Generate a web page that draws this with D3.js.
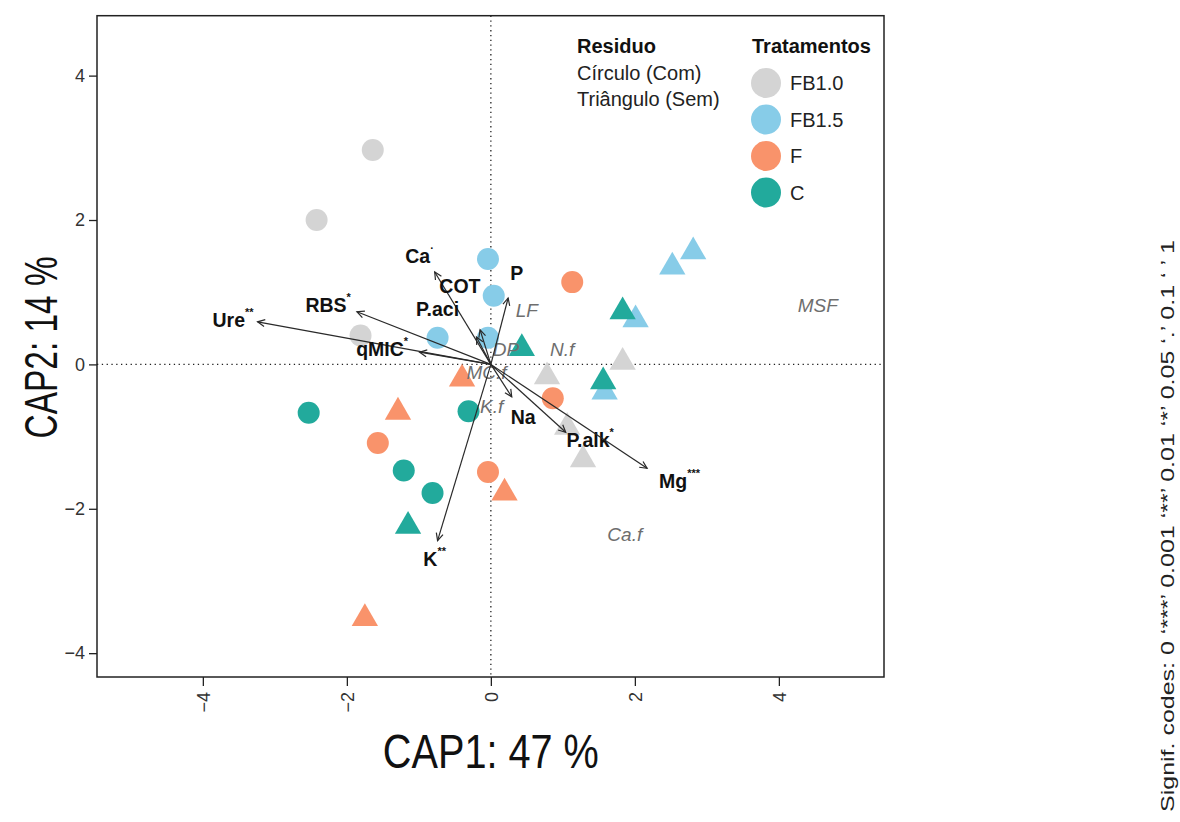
<!DOCTYPE html>
<html>
<head>
<meta charset="utf-8">
<script src="https://cdn.jsdelivr.net/npm/d3@7"></script>
<style>
  body { margin: 0; background: white; }
  text { font-family: Arial, "Liberation Sans", sans-serif; }
</style>
</head>
<body>
<div id="chart"></div>
<script>
// Treatment groups and colours
const groups = ["FB1.0", "FB1.5", "F", "C"];
const groupColors = ["#d4d4d4", "#87cce8", "#f9936b", "#22aa9c"];

// Site scores, circles = Com residue, triangles = Sem residue
const comFB10 = [[-1.64, 2.97], [-2.42, 2.00], [-1.81, 0.40]];
const semFB10 = [[0.78, -0.17], [1.83, 0.03], [1.06, -0.87], [1.28, -1.32]];
const comFB15 = [[-0.04, 1.46], [0.04, 0.95], [-0.74, 0.37], [-0.04, 0.37]];
const semFB15 = [[2.52, 1.35], [2.81, 1.56], [2.01, 0.62], [1.58, -0.38]];
const comF = [[1.13, 1.14], [0.86, -0.47], [-1.57, -1.09], [-0.04, -1.49]];
const semF = [[-0.40, -0.20], [-1.29, -0.66], [0.19, -1.78], [-1.75, -3.52]];
const comC = [[-2.53, -0.67], [-0.31, -0.65], [-1.21, -1.47], [-0.81, -1.78]];
const semC = [[0.43, 0.22], [1.83, 0.73], [1.56, -0.24], [-1.15, -2.24]];

// Environmental vectors (biplot arrows)
const envNames = ["Ure", "RBS", "qMIC", "Ca", "COT", "P.aci", "P", "Na", "P.alk", "Mg", "K"];
const envSig = ["**", "*", "*", "\u00b7", "", "", "", "", "*", "***", "**"];
const envX = [-3.24, -1.86, -0.99, -0.78, -0.15, -0.20, 0.24, 0.29, 1.04, 2.17, -0.74];
const envY = [0.59, 0.73, 0.17, 1.28, 0.48, 0.38, 0.92, -0.45, -0.94, -1.44, -2.44];
const envLabX = [-3.58, -2.26, -1.51, -0.99, -0.43, -0.74, 0.36, 0.45, 1.38, 2.62, -0.78];
const envLabY = [0.62, 0.82, 0.21, 1.50, 1.09, 0.77, 1.27, -0.73, -1.05, -1.62, -2.69];

// Factor centroids
const factorNames = ["LF", "N.f", "MSF", "Ca.f", "K.f", "DP", "MC.f"];
const factorX = [0.50, 0.99, 4.54, 1.86, 0.01, 0.21, -0.06];
const factorY = [0.75, 0.21, 0.81, -2.35, -0.58, 0.21, -0.11];

const xTicks = [-4, -2, 0, 2, 4];
const yTicks = [-4, -2, 0, 2, 4];

const width = 1180, height = 822;
const margin = {top: 15.7, bottom: 145, left: 97, right: 296};

const svg = d3.select("#chart")
  .append("svg")
  .attr("width", width)
  .attr("height", height);

const x = d3.scaleLinear()
  .domain([-5.47, 5.46])
  .range([margin.left, width - margin.right]);

const y = d3.scaleLinear()
  .domain([-4.33, 4.83])
  .range([height - margin.bottom, margin.top]);

const color = d3.scaleOrdinal().domain(groups).range(groupColors);

// zero lines
svg.append("line")
  .attr("x1", x(0)).attr("x2", x(0))
  .attr("y1", y.range()[1]).attr("y2", y.range()[0])
  .attr("stroke", "#222").attr("stroke-width", 1.3)
  .attr("stroke-dasharray", "1.3,3.5");
svg.append("line")
  .attr("x1", x.range()[0]).attr("x2", x.range()[1])
  .attr("y1", y(0)).attr("y2", y(0))
  .attr("stroke", "#222").attr("stroke-width", 1.3)
  .attr("stroke-dasharray", "1.3,3.5");

// points
const circleSets = [comFB10, comFB15, comF, comC];
const triSets = [semFB10, semFB15, semF, semC];
const tri = d3.symbol().type(d3.symbolTriangle).size(300);

groups.forEach((g, i) => {
  svg.append("g").selectAll("circle")
    .data(circleSets[i])
    .enter().append("circle")
    .attr("cx", d => x(d[0]))
    .attr("cy", d => y(d[1]))
    .attr("r", 11)
    .attr("fill", color(g));
});
groups.forEach((g, i) => {
  svg.append("g").selectAll("path")
    .data(triSets[i])
    .enter().append("path")
    .attr("d", tri)
    .attr("transform", d => `translate(${x(d[0])},${y(d[1])})`)
    .attr("fill", color(g));
});

// factor centroid labels
factorNames.forEach((name, i) => {
  svg.append("text")
    .attr("x", x(factorX[i]))
    .attr("y", y(factorY[i]))
    .attr("text-anchor", "middle")
    .attr("dominant-baseline", "central")
    .style("font-size", "19px")
    .style("font-style", "italic")
    .attr("fill", "#6e6e6e")
    .text(name);
});

// arrows
envNames.forEach((name, i) => {
  const x0 = x(0), y0 = y(0);
  const x1 = x(envX[i]), y1 = y(envY[i]);
  svg.append("line")
    .attr("x1", x0).attr("y1", y0)
    .attr("x2", x1).attr("y2", y1)
    .attr("stroke", "#2a2a2a").attr("stroke-width", 1.2);
  const ang = Math.atan2(y1 - y0, x1 - x0);
  const len = 8, spread = Math.PI / 7;
  const a1 = [x1 - len * Math.cos(ang - spread), y1 - len * Math.sin(ang - spread)];
  const a2 = [x1 - len * Math.cos(ang + spread), y1 - len * Math.sin(ang + spread)];
  svg.append("path")
    .attr("d", `M${a1[0]},${a1[1]}L${x1},${y1}L${a2[0]},${a2[1]}`)
    .attr("fill", "none")
    .attr("stroke", "#2a2a2a").attr("stroke-width", 1.2);

  const t = svg.append("text")
    .attr("x", x(envLabX[i]))
    .attr("y", y(envLabY[i]))
    .attr("text-anchor", "middle")
    .attr("dominant-baseline", "central")
    .style("font-size", "19.5px")
    .style("font-weight", "bold")
    .attr("fill", "#111");
  t.append("tspan").text(name);
  if (envSig[i]) {
    t.append("tspan")
      .attr("dy", -8)
      .style("font-size", "11px")
      .text(envSig[i]);
  }
});

// frame
svg.append("rect")
  .attr("x", x.range()[0]).attr("y", y.range()[1])
  .attr("width", x.range()[1] - x.range()[0])
  .attr("height", y.range()[0] - y.range()[1])
  .attr("fill", "none").attr("stroke", "#222").attr("stroke-width", 1.5);

// axes
const yAxis = svg.append("g")
  .attr("transform", `translate(${margin.left},0)`)
  .call(d3.axisLeft(y).tickValues(yTicks).tickSize(8).tickPadding(4));
yAxis.select(".domain").remove();
yAxis.selectAll("line").attr("stroke", "#222").attr("stroke-width", 1.3);
yAxis.selectAll("text").style("font-size", "18px").attr("fill", "#333")
  .style("font-family", "Arial, 'Liberation Sans', sans-serif");

const xAxis = svg.append("g")
  .attr("transform", `translate(0,${height - margin.bottom})`)
  .call(d3.axisBottom(x).tickValues(xTicks).tickSize(9));
xAxis.select(".domain").remove();
xAxis.selectAll("line").attr("stroke", "#222").attr("stroke-width", 1.3);
xAxis.selectAll("text")
  .attr("transform", "rotate(-90)")
  .attr("x", -15).attr("y", 0).attr("dy", "0.35em")
  .style("text-anchor", "end")
  .style("font-size", "18px").attr("fill", "#333")
  .style("font-family", "Arial, 'Liberation Sans', sans-serif");

// axis titles
svg.append("text")
  .attr("x", x(0)).attr("y", 768)
  .attr("text-anchor", "middle")
  .attr("textLength", 216).attr("lengthAdjust", "spacingAndGlyphs")
  .style("font-size", "48px").attr("fill", "#111")
  .text("CAP1: 47 %");

svg.append("text")
  .attr("transform", `translate(57,${y(0) - 17}) rotate(-90)`)
  .attr("text-anchor", "middle")
  .attr("textLength", 182).attr("lengthAdjust", "spacingAndGlyphs")
  .style("font-size", "46px").attr("fill", "#111")
  .text("CAP2: 14 %");

// legend: residue
const leg = svg.append("g");
leg.append("text").attr("x", 577).attr("y", 53)
  .style("font-size", "20px").style("font-weight", "bold").attr("fill", "#111")
  .text("Residuo");
leg.append("text").attr("x", 577).attr("y", 80)
  .style("font-size", "20px").attr("fill", "#222")
  .text("Círculo (Com)");
leg.append("text").attr("x", 577).attr("y", 106)
  .style("font-size", "20px").attr("fill", "#222")
  .text("Triângulo (Sem)");

// legend: treatments
leg.append("text").attr("x", 752).attr("y", 53)
  .style("font-size", "20px").attr("fill", "#111")
  .style("font-weight", "600")
  .text("Tratamentos");
groups.forEach((g, i) => {
  leg.append("circle")
    .attr("cx", 766).attr("cy", 83 + i * 36.5)
    .attr("r", 15).attr("fill", color(g));
  leg.append("text")
    .attr("x", 790).attr("y", 83 + i * 36.5)
    .attr("dominant-baseline", "central")
    .style("font-size", "20px").attr("fill", "#222")
    .text(g);
});

// significance codes
svg.append("text")
  .attr("transform", "translate(1174,812) rotate(-90)")
  .attr("textLength", 572).attr("lengthAdjust", "spacingAndGlyphs")
  .style("font-size", "18px").attr("fill", "#222")
  .text("Signif. codes:  0 \u2018***\u2019 0.001 \u2018**\u2019 0.01 \u2018*\u2019 0.05 \u2018.\u2019 0.1 \u2018 \u2019 1");
</script>
</body>
</html>
